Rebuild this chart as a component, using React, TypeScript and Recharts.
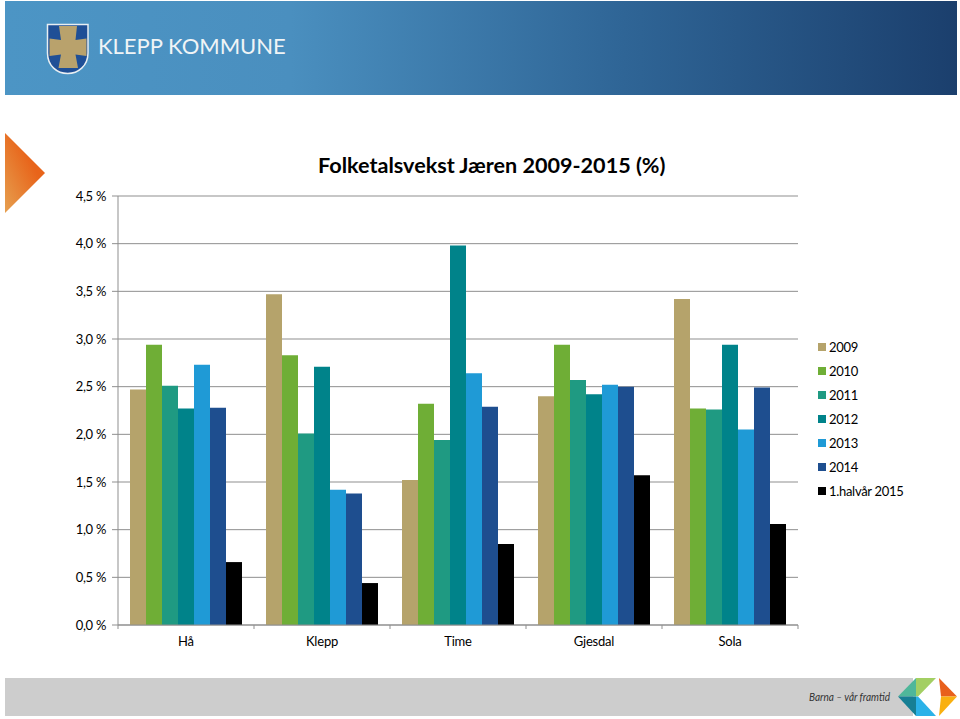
import { BarChart, Bar, CartesianGrid, XAxis, YAxis, Legend } from "recharts"

const places = ["Hå", "Klepp", "Time", "Gjesdal", "Sola"]
const v2009 = [2.47, 3.47, 1.52, 2.40, 3.42]
const v2010 = [2.94, 2.83, 2.32, 2.94, 2.27]
const v2011 = [2.51, 2.01, 1.94, 2.57, 2.26]
const v2012 = [2.27, 2.71, 3.98, 2.42, 2.94]
const v2013 = [2.73, 1.42, 2.64, 2.52, 2.05]
const v2014 = [2.28, 1.38, 2.29, 2.50, 2.49]
const vHalf = [0.66, 0.44, 0.85, 1.57, 1.06]
const yTicks = [0, 0.5, 1, 1.5, 2, 2.5, 3, 3.5, 4, 4.5]

const seriesNames = ["2009", "2010", "2011", "2012", "2013", "2014", "1.halvår 2015"]
const seriesValues = [v2009, v2010, v2011, v2012, v2013, v2014, vHalf]
const seriesColors = ["#b5a36b", "#6fae36", "#1f9a82", "#00838a", "#1f9ad6", "#1e4e8f", "#000000"]

const chartData = places.map((place, i) => {
    const row: Record<string, string | number> = { place }
    seriesNames.forEach((name, s) => {
        row[name] = seriesValues[s][i]
    })
    return row
})

const font = "Lato, 'Open Sans', sans-serif"
const axisColor = "#8f8f8f"
const bandWidth = 136

function PlaceTick(props: any) {
    const { x, y, payload, index } = props
    return (
        <g>
            <line x1={x - bandWidth / 2} x2={x - bandWidth / 2} y1={y - 8} y2={y - 4} stroke={axisColor} />
            {index === places.length - 1 && (
                <line x1={x + bandWidth / 2} x2={x + bandWidth / 2} y1={y - 8} y2={y - 4} stroke={axisColor} />
            )}
            <text x={x} y={y + 13} textAnchor="middle" fontSize={13} letterSpacing={-0.2} fontFamily={font} fill="#000">
                {payload.value}
            </text>
        </g>
    )
}

function YearLegend() {
    return (
        <div style={{ fontFamily: font, fontSize: 13, letterSpacing: -0.3, color: "#000" }}>
            {seriesNames.map((name, s) => (
                <div key={name} style={{ height: 24, display: "flex", alignItems: "center" }}>
                    <span style={{ width: 8, height: 8, background: seriesColors[s], marginRight: 3 }} />
                    {name}
                </div>
            ))}
        </div>
    )
}

function Header() {
    return (
        <div style={{ position: "absolute", left: 5, top: 1, width: 952, height: 94, background: "linear-gradient(90deg, #4c95c5 0%, #4a8fbf 30%, #2f6596 65%, #1b3f6d 100%)" }}>
            <svg width={300} height={94} style={{ position: "absolute", left: 0, top: 0 }}>
                <path d="M42.5 23.5 H83 V52 C83 65 73 72.5 62.7 72.5 C52 72.5 42.5 65 42.5 52 Z" fill="#1f4f96" stroke="#e8eef2" strokeWidth={1.5} />
                <path d="M54 25 H72 L70.5 39 L81.5 37.5 V55 L70.5 53.5 L73 67 H53.5 L56 53.5 L44.5 55 V37.5 L56 39 Z" fill="#b9a26c" />
                <text x={93} y={53} fontFamily={font} fontSize={22} fill="#f0f4f6">KLEPP KOMMUNE</text>
            </svg>
        </div>
    )
}

function Decor() {
    return (
        <svg width={960} height={719} style={{ position: "absolute", left: 0, top: 0 }}>
            <defs>
                <linearGradient id="arrowFill" x1="1" y1="0" x2="0" y2="1">
                    <stop offset="35%" stopColor="#e8641a" />
                    <stop offset="100%" stopColor="#e6a050" />
                </linearGradient>
            </defs>
            <polygon points="5,133 45,173 5,213" fill="url(#arrowFill)" />
            <rect x={5} y={678} width={908} height={38} fill="#cdcdcd" />
            <text x={809} y={701} fontFamily={font} fontSize={12} fontStyle="italic" fill="#333" textLength={81} lengthAdjust="spacingAndGlyphs">Barna – vår framtid</text>
            <polygon points="898,696.5 916,678 916,696.5" fill="#4fb79a" />
            <polygon points="916,678 936,678 918,696.5 916,696.5" fill="#a3cf63" />
            <polygon points="898,696.5 916,696.5 916,716" fill="#177f94" />
            <polygon points="916,696.5 918,696.5 936,716 916,716" fill="#2bb2e8" />
            <polygon points="939,678 957,696.5 941,696.5" fill="#e8601c" />
            <polygon points="939,716 957,696.5 941,696.5" fill="#f9b010" />
        </svg>
    )
}

export default function App() {
    return (
        <div style={{ position: "absolute", left: 0, top: 0, width: 960, height: 719, background: "#fff", overflow: "hidden" }}>
            <Header />
            <Decor />
            <div style={{ position: "absolute", left: 318, top: 152, fontFamily: font, fontWeight: 700, fontSize: 21.6, color: "#000", whiteSpace: "nowrap" }}>
                Folketalsvekst Jæren 2009-2015 (%)
            </div>
            <div style={{ position: "absolute", left: 0, top: 0 }}>
                <BarChart
                    width={960}
                    height={719}
                    data={chartData}
                    margin={{ top: 196, right: 162, bottom: 64, left: 58 }}
                    barGap={0}
                    barCategoryGap={12}
                >
                    <CartesianGrid horizontal vertical={false} stroke={axisColor} />
                    <XAxis dataKey="place" stroke={axisColor} tickLine={false} tick={<PlaceTick />} height={30} interval={0} />
                    <YAxis
                        domain={[0, 4.5]}
                        ticks={yTicks}
                        width={60}
                        stroke={axisColor}
                        tickSize={6}
                        tickMargin={6}
                        tick={{ fill: "#000", fontSize: 13, letterSpacing: -0.3, fontFamily: font }}
                        tickFormatter={(v: number) => v.toFixed(1).replace(".", ",") + " %"}
                    />
                    <Legend
                        content={<YearLegend />}
                        layout="vertical"
                        align="center"
                        verticalAlign="middle"
                        wrapperStyle={{ left: 818, top: 335, width: 120, margin: 0 }}
                    />
                    {seriesNames.map((name, s) => (
                        <Bar key={name} dataKey={name} fill={seriesColors[s]} isAnimationActive={false} />
                    ))}
                </BarChart>
            </div>
        </div>
    )
}
